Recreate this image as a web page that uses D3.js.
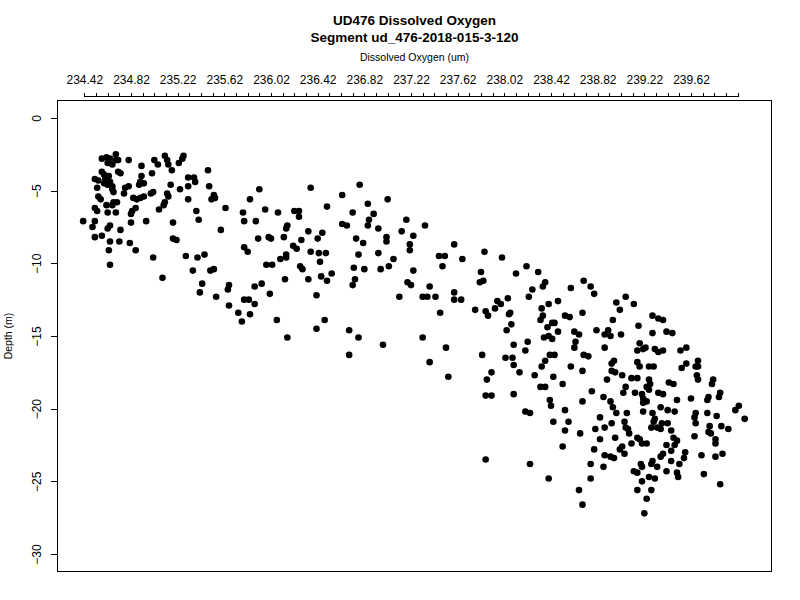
<!DOCTYPE html>
<html><head><meta charset="utf-8">
<script src="https://cdn.jsdelivr.net/npm/d3@7"></script>
<style>
body{margin:0;background:#fff}
svg{display:block}
text{font-family:"Liberation Sans",Arial,Helvetica,sans-serif;fill:#000}
</style>
</head><body>
<svg id="c" width="800" height="600"></svg>
<script>
const titleLines = ["UD476 Dissolved Oxygen", "Segment ud_476-2018-015-3-120"];
const xLabel = "Dissolved Oxygen (um)";
const yLabel = "Depth (m)";
const xTickLabels = ["234.42","234.82","235.22","235.62","236.02","236.42","236.82","237.22","237.62","238.02","238.42","238.82","239.22","239.62"];
const xMinorStart = 234.42, xMinorEnd = 240.02, xMinorStep = 0.1;
const yTickValues = [-30,-25,-20,-15,-10,-5,0];
const xDomain = [234.19, 240.31];
const yDomain = [-31.2, 1.2];

const oxygen = [
234.69,234.57,234.61,234.64,234.69,234.62,234.66,234.80,234.71,234.91,
235.02,235.05,235.11,235.13,235.14,235.23,235.26,235.27,235.17,235.00,
235.48,234.57,234.59,234.71,234.73,234.91,234.90,234.93,234.89,234.51,
234.54,234.60,234.63,234.64,234.62,234.66,234.59,234.67,234.66,234.80,
234.77,234.53,235.16,235.24,235.31,235.36,235.37,235.31,235.49,234.76,
234.84,234.87,234.90,234.93,234.99,235.01,235.13,235.14,235.53,235.51,
235.54,234.54,234.56,234.67,234.70,234.66,235.11,235.10,235.31,234.61,
234.51,234.53,234.86,234.83,234.82,235.06,235.38,235.63,235.78,234.62,
234.69,234.41,234.49,234.51,234.64,234.62,234.73,234.82,234.95,235.18,
235.40,235.79,235.59,234.51,234.57,234.64,234.72,234.81,235.18,235.21,
234.86,234.63,235.79,235.01,235.29,235.39,235.45,234.64,235.35,235.50,
235.53,235.09,235.43,235.41,235.66,235.65,235.55,235.79,235.66,235.74,
235.77,
235.92,236.36,236.78,235.84,236.63,237.02,236.85,235.97,236.08,
236.22,236.26,236.26,236.50,236.72,236.90,236.86,236.85,237.18,235.89,
236.16,236.15,236.63,236.67,236.94,237.14,236.34,236.46,236.42,235.91,
236.00,236.02,236.13,236.28,236.75,236.81,237.01,237.01,237.24,237.21,
235.82,236.21,236.24,236.36,236.43,236.49,236.77,236.94,237.21,236.15,
236.15,236.10,237.07,235.98,236.03,236.44,236.27,236.29,236.73,236.82,
236.96,237.03,237.24,236.14,236.34,236.45,236.54,236.50,236.74,236.72,
237.19,237.22,235.88,235.94,236.01,236.41,237.12,235.83,235.88,235.84,
236.07,236.48,236.41,236.69,
236.16,236.77,236.98,236.69,
237.34,237.59,
237.85,237.46,237.51,237.66,238.00,237.49,237.82,238.12,238.21,238.31,
237.81,237.84,237.38,238.37,238.35,238.26,238.59,238.70,237.32,237.36,
237.43,237.59,237.59,237.65,238.23,238.05,237.96,237.99,238.48,237.47,
237.77,237.86,237.88,237.94,238.07,238.06,238.40,238.34,238.35,238.33,
238.69,238.54,238.58,238.08,238.04,238.43,238.45,238.39,238.48,238.62,
238.66,237.32,238.36,238.40,238.43,238.63,237.52,238.10,238.22,238.20,
238.62,237.83,238.41,238.45,238.70,237.38,238.03,238.09,238.10,238.37,
238.34,238.59,238.69,237.91,238.15,238.28,238.44,237.54,237.87,238.52,
238.33,238.37,
237.86,237.91,238.10,238.41,238.42,238.69,238.20,238.24,
238.54,238.44,238.57,238.54,238.67,238.52,237.86,238.24,238.40,238.66,
238.69,
238.76,238.79,239.06,238.98,239.13,239.01,239.29,239.34,239.38,
238.95,239.17,238.81,238.88,238.91,238.93,239.02,239.29,239.41,239.46,
238.88,239.18,239.16,239.21,239.23,239.31,239.34,239.38,239.53,239.58,
238.74,238.96,238.94,239.16,239.18,239.26,239.30,239.54,239.58,239.68,
239.66,239.68,238.94,238.97,239.03,239.67,239.68,238.90,239.11,239.16,
239.26,239.27,239.43,239.47,239.81,239.80,239.06,239.24,239.26,238.77,
239.04,239.14,239.20,239.21,239.34,239.38,239.24,238.87,239.50,239.62,
239.87,239.86,239.77,239.76,238.93,238.95,239.21,239.36,239.42,239.48,
240.03,240.00,240.08,238.98,239.07,239.21,239.29,239.31,239.66,239.65,
239.76,239.84,238.84,238.94,239.05,239.30,239.37,239.42,239.33,239.66,
239.78,239.88,239.94,238.80,238.88,239.06,239.08,239.09,239.28,239.36,
239.45,239.77,239.79,239.47,239.50,239.16,239.18,238.97,238.84,239.65,
239.83,239.83,239.11,239.20,239.24,239.03,239.01,238.79,239.41,239.38,
239.36,239.05,239.45,239.48,239.57,239.71,239.83,239.89,238.88,238.93,
238.96,239.56,238.76,238.87,239.19,239.20,239.28,239.29,239.33,239.45,
239.52,239.13,239.16,239.41,239.50,239.51,239.26,239.31,239.20,239.73,
238.76,239.87,239.16,239.28,239.24,239.22
];

const depth = [
-2.5,-2.8,-2.7,-2.8,-2.9,-3.1,-3.2,-2.9,-2.9,-3.3,
-2.9,-3.2,-2.6,-2.9,-3.2,-3.1,-2.8,-2.6,-3.6,-3.8,
-3.6,-3.7,-3.9,-3.7,-3.8,-4.0,-4.4,-4.5,-4.6,-4.2,
-4.3,-4.2,-4.0,-4.4,-4.6,-4.7,-4.5,-5.1,-4.9,-4.7,
-4.8,-4.8,-4.6,-4.9,-4.1,-4.1,-4.4,-4.7,-4.7,-5.2,
-5.5,-5.6,-5.5,-5.4,-5.2,-5.1,-5.2,-5.4,-5.3,-5.6,
-5.5,-5.4,-5.6,-5.8,-5.8,-6.0,-5.8,-6.0,-5.6,-6.0,
-6.2,-6.4,-6.2,-6.4,-6.6,-6.3,-6.4,-6.2,-6.5,-6.5,
-6.5,-7.1,-7.5,-7.1,-7.4,-7.6,-7.7,-7.2,-7.1,-7.2,
-7.0,-7.1,-7.7,-8.2,-8.1,-8.5,-8.5,-8.6,-8.3,-8.4,
-9.1,-9.1,-8.9,-9.6,-9.5,-9.6,-9.4,-10.1,-10.5,-10.5,
-10.4,-11.0,-11.4,-12.0,-11.5,-11.8,-12.3,-12.5,-12.9,-13.4,
-14.0,
-4.9,-4.8,-4.6,-5.6,-5.3,-5.6,-5.9,-6.3,-6.5,
-6.4,-6.4,-6.8,-6.1,-6.5,-6.6,-7.0,-7.4,-7.0,-7.1,
-7.4,-7.6,-7.3,-7.4,-7.6,-7.8,-7.8,-7.9,-8.3,-8.3,
-8.2,-8.3,-8.2,-8.4,-8.3,-8.6,-8.2,-8.5,-8.1,-8.7,
-9.2,-8.8,-9.0,-9.2,-9.3,-9.3,-9.4,-9.3,-9.1,-9.4,
-9.6,-9.7,-9.7,-10.1,-10.1,-9.9,-10.2,-10.4,-10.3,-10.4,
-10.4,-10.2,-10.5,-11.1,-11.1,-10.9,-10.7,-11.2,-11.1,-11.5,
-11.3,-11.5,-11.6,-11.4,-12.1,-12.2,-12.3,-12.5,-12.8,-13.5,
-13.9,-13.9,-14.5,-14.6,
-15.1,-15.1,-15.6,-16.3,
-7.4,-8.7,
-9.2,-9.5,-9.5,-9.7,-9.6,-10.2,-10.6,-10.7,-10.2,-10.6,
-11.3,-11.2,-11.6,-11.3,-11.6,-11.8,-11.7,-11.2,-12.3,-12.3,
-12.3,-12.0,-12.5,-12.5,-12.3,-12.4,-12.6,-12.8,-12.6,-13.4,
-13.2,-13.3,-13.6,-13.1,-13.4,-13.5,-12.8,-13.1,-13.6,-13.9,
-13.4,-13.6,-13.7,-14.2,-14.6,-14.1,-14.1,-14.4,-14.7,-14.7,
-14.9,-15.1,-15.1,-15.0,-15.2,-15.4,-15.8,-15.6,-15.4,-16.0,
-15.8,-16.3,-16.3,-16.3,-16.3,-16.8,-16.5,-16.5,-17.0,-16.7,
-17.1,-17.1,-17.4,-17.5,-17.5,-17.7,-17.8,-17.8,-18.0,-18.3,
-18.5,-18.5,
-19.1,-19.1,-19.0,-19.4,-19.8,-19.5,-20.2,-20.3,
-20.1,-20.9,-20.9,-21.5,-21.7,-22.6,-23.5,-23.8,-24.8,-25.6,
-26.6,
-11.6,-12.1,-12.3,-12.7,-12.8,-13.2,-13.6,-13.8,-13.9,
-13.9,-14.3,-14.6,-14.9,-14.6,-15.0,-14.9,-14.8,-14.7,-14.8,
-15.8,-15.5,-16.0,-15.9,-15.8,-15.9,-16.1,-16.0,-16.0,-15.8,
-16.4,-16.7,-16.9,-16.8,-17.1,-17.1,-17.1,-17.2,-16.9,-16.7,
-17.1,-17.1,-17.4,-17.5,-17.7,-17.7,-18.0,-18.0,-17.9,-17.9,
-18.0,-18.3,-18.2,-18.3,-18.0,-18.3,-18.5,-18.5,-18.7,-18.8,
-18.9,-18.9,-19.0,-19.3,-18.9,-19.0,-19.5,-19.2,-19.4,-19.3,
-18.9,-19.2,-19.2,-19.4,-19.5,-19.9,-19.6,-19.9,-20.1,-20.2,
-19.8,-20.1,-20.7,-20.3,-20.3,-20.2,-20.3,-20.7,-20.3,-20.6,
-20.3,-20.5,-20.6,-21.0,-20.9,-20.9,-21.0,-21.0,-21.3,-21.0,
-21.2,-21.2,-21.4,-21.4,-21.3,-21.3,-21.4,-21.7,-21.3,-21.4,
-21.5,-21.6,-21.7,-22.0,-22.2,-22.0,-22.1,-22.0,-22.1,-21.9,
-22.1,-22.4,-22.4,-22.4,-22.4,-22.6,-22.8,-22.8,-22.5,-23.1,
-23.3,-23.1,-22.9,-22.5,-23.0,-23.2,-23.3,-23.1,-23.2,-23.3,
-23.4,-23.4,-23.8,-24.0,-23.8,-24.0,-23.8,-23.6,-24.0,-23.6,
-23.8,-24.3,-24.4,-24.3,-24.4,-24.7,-24.7,-24.8,-25.0,-24.5,
-24.8,-25.2,-25.6,-25.6,-26.2,-27.2
];

const points = oxygen.map((o, i) => ({o, d: depth[i]}));

const svg = d3.select("#c");
const plot = {left: 57.5, right: 771.5, top: 100.5, bottom: 571.5};

const x = d3.scaleLinear().domain(xDomain).range([plot.left, plot.right]);
const y = d3.scaleLinear().domain(yDomain).range([plot.bottom, plot.top]);

// titles
svg.selectAll("text.title").data(titleLines).enter().append("text")
  .attr("class", "title")
  .attr("x", (plot.left + plot.right) / 2)
  .attr("y", (d, i) => 25 + i * 17)
  .attr("text-anchor", "middle")
  .style("font-weight", "bold")
  .style("font-size", "13.5px")
  .text(d => d);

svg.append("text")
  .attr("x", (plot.left + plot.right) / 2)
  .attr("y", 61)
  .attr("text-anchor", "middle")
  .style("font-size", "10.5px")
  .text(xLabel);

svg.append("text")
  .attr("transform", `translate(11.5,${(plot.top + plot.bottom) / 2}) rotate(-90)`)
  .attr("text-anchor", "middle")
  .style("font-size", "10.5px")
  .text(yLabel);

// top axis
const nMinor = Math.round((xMinorEnd - xMinorStart) / xMinorStep);
const xTicks = d3.range(nMinor + 1).map(i => +(xMinorStart + i * xMinorStep).toFixed(2));
const axisY = 96.5;
const gx = svg.append("g")
  .attr("transform", `translate(0,${axisY})`)
  .call(d3.axisTop(x)
    .tickValues(xTicks)
    .tickSize(4)
    .tickSizeOuter(0)
    .tickPadding(8.5)
    .tickFormat((d, i) => (i % 4 === 0 && xTickLabels[i / 4] !== undefined) ? xTickLabels[i / 4] : ""));
gx.select(".domain").remove();
gx.append("line")
  .attr("x1", x(xTicks[0])).attr("x2", x(xTicks[xTicks.length - 1]))
  .attr("y1", 0).attr("y2", 0)
  .attr("stroke", "#000").attr("shape-rendering", "crispEdges");
gx.selectAll("line").attr("stroke", "#000").attr("shape-rendering", "crispEdges");
gx.selectAll("text").style("font-size", "12px").attr("fill", "#000")
  .style("font-family", "'Liberation Sans',Arial,sans-serif");

// left axis
const gy = svg.append("g")
  .attr("transform", `translate(${plot.left},0)`)
  .call(d3.axisLeft(y)
    .tickValues(yTickValues)
    .tickSize(7)
    .tickSizeOuter(0)
    .tickFormat(d => d === 0 ? "0" : (d < 0 ? "\u2212" : "") + Math.abs(d)));
gy.select(".domain").remove();
gy.selectAll("line").attr("stroke", "#000").attr("shape-rendering", "crispEdges");
gy.selectAll("text")
  .attr("x", 0).attr("dy", 0)
  .attr("text-anchor", "middle")
  .attr("transform", "translate(-16.2,0) rotate(-90)")
  .style("font-size", "12px").attr("fill", "#000")
  .style("font-family", "'Liberation Sans',Arial,sans-serif");

// box
svg.append("rect")
  .attr("x", plot.left).attr("y", plot.top)
  .attr("width", plot.right - plot.left).attr("height", plot.bottom - plot.top)
  .attr("fill", "none").attr("stroke", "#000").attr("shape-rendering", "crispEdges");

// points
svg.append("g").selectAll("circle").data(points).enter().append("circle")
  .attr("cx", d => x(d.o))
  .attr("cy", d => y(d.d))
  .attr("r", 3.3)
  .attr("fill", "#000");
</script>
</body></html>
